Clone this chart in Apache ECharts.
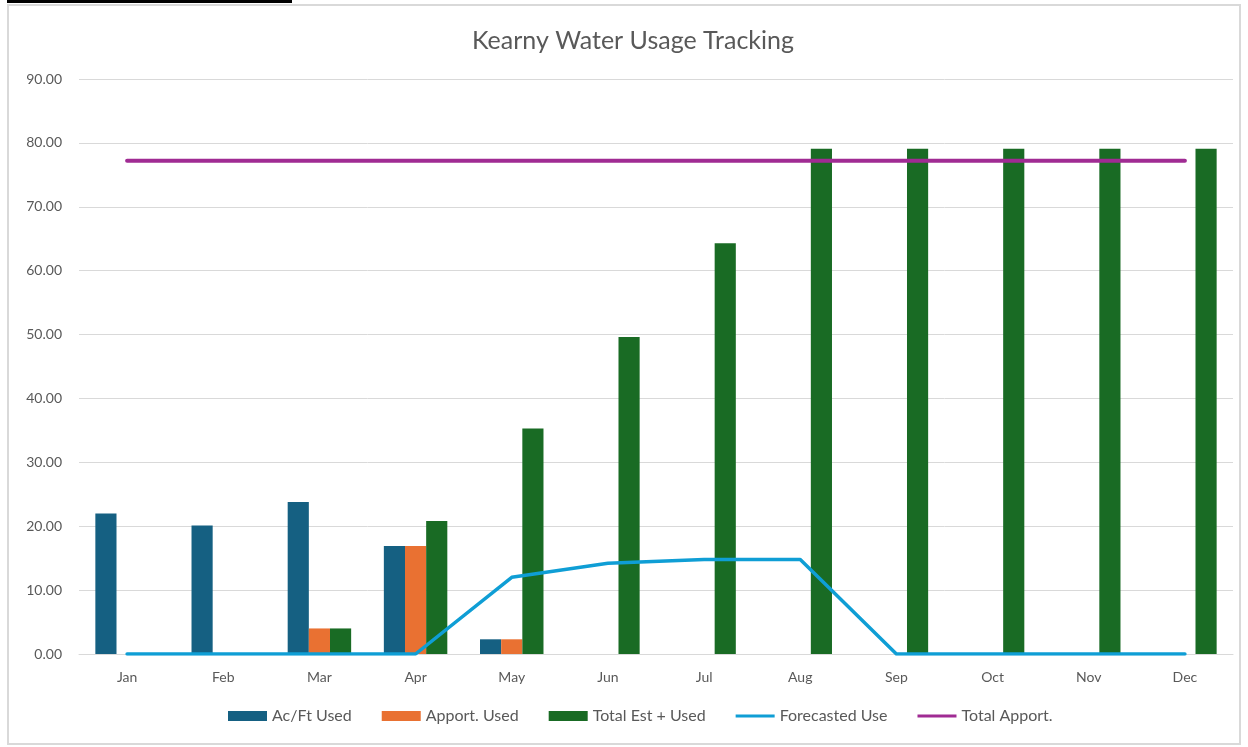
<!DOCTYPE html>
<html>
<head>
<meta charset="utf-8">
<script src="https://cdn.jsdelivr.net/npm/echarts@6/dist/echarts.min.js"></script>
<style>
  html, body { margin: 0; padding: 0; background: #fff; }
  #chart { width: 1248px; height: 747px; }
</style>
</head>
<body>
<div id="chart"></div>
<script>
// 月份
var months = ['Jan', 'Feb', 'Mar', 'Apr', 'May', 'Jun', 'Jul', 'Aug', 'Sep', 'Oct', 'Nov', 'Dec'];
// 各系列数值
var acFtUsed = [22.0, 20.1, 23.8, 16.9, 2.3, null, null, null, null, null, null, null];
var apportUsed = [null, null, 4.0, 16.9, 2.3, null, null, null, null, null, null, null];
var totalEstUsed = [null, null, 4.0, 20.8, 35.3, 49.6, 64.3, 79.1, 79.1, 79.1, 79.1, 79.1];
var forecastedUse = [0, 0, 0, 0, 12.0, 14.2, 14.8, 14.8, 0, 0, 0, 0];
var totalApport = [77.2, 77.2, 77.2, 77.2, 77.2, 77.2, 77.2, 77.2, 77.2, 77.2, 77.2, 77.2];
// y轴刻度
var yMin = 0, yMax = 90, yStep = 10;

var myChart = echarts.init(document.getElementById('chart'));
var textColor = '#595959';
var fontName = 'Lato, "Open Sans", sans-serif';
// 图例里的线条图标（细线，上下留空）
var lineIcon = 'path://M0,0 L1,0 M0,10 L1,10 M0,3.5 L40,3.5 L40,6.5 L0,6.5 Z';

var option = {
    animation: false,
    // 外框和左上角黑条
    graphic: [
        { type: 'rect', shape: { x: 8, y: 5, width: 1232, height: 739 },
          style: { fill: 'none', stroke: '#d9d9d9', lineWidth: 2 } },
        { type: 'rect', shape: { x: 7, y: 0, width: 285, height: 3 },
          style: { fill: '#000' } }
    ],
    title: {
        text: 'Kearny Water Usage Tracking',
        left: 467,
        top: 23,
        textStyle: { color: textColor, fontSize: 25, fontWeight: 'normal', fontFamily: fontName }
    },
    legend: {
        bottom: 18,
        left: 223,
        itemWidth: 39,
        itemHeight: 10,
        itemGap: 30,
        textStyle: { color: textColor, fontSize: 16, fontFamily: fontName },
        data: [
            { name: 'Ac/Ft Used', icon: 'rect' },
            { name: 'Apport. Used', icon: 'rect' },
            { name: 'Total Est + Used', icon: 'rect' },
            { name: 'Forecasted Use', icon: lineIcon },
            { name: 'Total Apport.', icon: lineIcon }
        ]
    },
    grid: { left: 79, right: 15, top: 79, bottom: 93, containLabel: false },
    xAxis: {
        type: 'category',
        data: months,
        axisTick: { show: false },
        axisLine: { lineStyle: { color: '#d9d9d9', width: 1 } },
        axisLabel: { color: textColor, fontSize: 14, fontFamily: fontName, margin: 16 }
    },
    yAxis: {
        type: 'value',
        min: yMin,
        max: yMax,
        interval: yStep,
        axisLine: { show: false },
        axisTick: { show: false },
        splitLine: { lineStyle: { color: '#d9d9d9', width: 1 } },
        axisLabel: {
            color: textColor, fontSize: 14, fontFamily: fontName, margin: 17,
            formatter: function (v) { return v.toFixed(2); }
        }
    },
    series: [
        { name: 'Ac/Ft Used', type: 'bar', data: acFtUsed, barGap: '0%', barCategoryGap: '34%',
          itemStyle: { color: '#156082' } },
        { name: 'Apport. Used', type: 'bar', data: apportUsed,
          itemStyle: { color: '#E97132' } },
        { name: 'Total Est + Used', type: 'bar', data: totalEstUsed,
          itemStyle: { color: '#196B24' } },
        { name: 'Forecasted Use', type: 'line', data: forecastedUse, symbol: 'none',
          lineStyle: { color: '#0F9ED5', width: 3.5, cap: 'round', join: 'round' },
          itemStyle: { color: '#0F9ED5' } },
        { name: 'Total Apport.', type: 'line', data: totalApport, symbol: 'none',
          lineStyle: { color: '#A02B93', width: 4, cap: 'round' },
          itemStyle: { color: '#A02B93' } }
    ]
};
myChart.setOption(option);
</script>
</body>
</html>
